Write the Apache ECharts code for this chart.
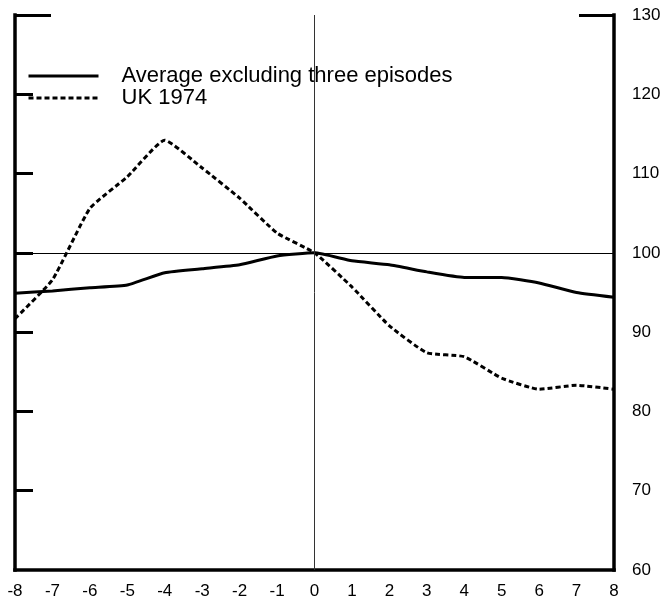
<!DOCTYPE html>
<html>
<head>
<meta charset="utf-8">
<script src="https://cdn.jsdelivr.net/npm/echarts@6/dist/echarts.min.js"></script>
<style>
  html, body { margin: 0; padding: 0; background: #ffffff; }
  #chart { width: 665px; height: 606px; }
</style>
</head>
<body>
<div id="chart"></div>
<script>
// Quarters relative to the episode start
var quarters = [-8, -7, -6, -5, -4, -3, -2, -1, 0, 1, 2, 3, 4, 5, 6, 7, 8];
// Index levels (quarter 0 = 100)
var avgValues = [94.9, 95.2, 95.6, 95.95, 97.5, 98.0, 98.5, 99.6, 100, 99.0, 98.5, 97.6, 96.9, 96.9, 96.2, 95.0, 94.4];
var ukValues  = [91.7, 96.6, 105.6, 109.6, 114.2, 110.7, 106.9, 102.5, 100, 95.7, 90.8, 87.4, 86.9, 84.2, 82.8, 83.3, 82.8];
var seriesNames = ['Average excluding three episodes', 'UK 1974'];
var yTicks = [60, 70, 80, 90, 100, 110, 120, 130];
var leftInnerTicks = [70, 80, 90, 100, 110, 120];
var topTick = [130];

function pairs(vals) {
  return quarters.map(function (q, i) { return [q, vals[i]]; });
}

var FONT = '"Liberation Sans", Arial, Helvetica, sans-serif';
var chart = echarts.init(document.getElementById('chart'), null, { renderer: 'canvas' });

var axisLineStyle = { color: '#000', width: 3.5, cap: 'square' };

chart.setOption({
  animation: false,
  backgroundColor: '#ffffff',
  grid: { left: 15, right: 51, top: 15, bottom: 36, containLabel: false },
  legend: {
    orient: 'vertical',
    left: 22,
    top: 60,
    itemWidth: 70,
    itemHeight: 14,
    itemGap: 0,
    data: seriesNames,
    itemStyle: { opacity: 0 },
    lineStyle: { width: 3 },
    textStyle: { fontFamily: FONT, fontSize: 22, color: '#000', lineHeight: 22, padding: [0, 0, 0, 18] }
  },
  xAxis: {
    type: 'value',
    min: -8,
    max: 8,
    interval: 1,
    axisLine: { show: true, onZero: false, lineStyle: axisLineStyle },
    axisTick: { show: false },
    splitLine: { show: false },
    axisLabel: { fontFamily: FONT, fontSize: 17, color: '#000', margin: 13 }
  },
  yAxis: [
    {
      type: 'value', position: 'left', min: 60, max: 130, interval: 10,
      axisLine: { show: true, onZero: false, lineStyle: axisLineStyle },
      axisTick: { show: true, inside: true, length: 18, customValues: leftInnerTicks, lineStyle: { color: '#000', width: 3 } },
      axisLabel: { show: false },
      splitLine: { show: false }
    },
    {
      type: 'value', position: 'right', min: 60, max: 130, interval: 10,
      axisLine: { show: true, onZero: false, lineStyle: axisLineStyle },
      axisTick: { show: true, inside: true, length: 35, customValues: topTick, lineStyle: { color: '#000', width: 3 } },
      axisLabel: { show: true, fontFamily: FONT, fontSize: 17, color: '#000', margin: 18, customValues: yTicks },
      splitLine: { show: false }
    },
    {
      type: 'value', position: 'left', min: 60, max: 130, interval: 10,
      axisLine: { show: false, onZero: false },
      axisTick: { show: true, inside: true, length: 36, customValues: topTick, lineStyle: { color: '#000', width: 3 } },
      axisLabel: { show: false },
      splitLine: { show: false }
    }
  ],
  series: [
    {
      name: seriesNames[0],
      type: 'line',
      yAxisIndex: 1,
      data: pairs(avgValues),
      symbol: 'none',
      smooth: 0.15,
      lineStyle: { color: '#000', width: 3, type: 'solid' },
      itemStyle: { color: '#000' },
      z: 3,
      markLine: {
        silent: true,
        symbol: 'none',
        label: { show: false },
        lineStyle: { color: '#000', width: 1, type: 'solid' },
        data: [{ yAxis: 100 }, { xAxis: 0, lineStyle: { color: '#333' } }]
      }
    },
    {
      name: seriesNames[1],
      type: 'line',
      yAxisIndex: 1,
      data: pairs(ukValues),
      symbol: 'none',
      smooth: 0.15,
      lineStyle: { color: '#000', width: 3, type: [5, 3] },
      itemStyle: { color: '#000' },
      z: 3
    }
  ]
});
</script>
</body>
</html>
